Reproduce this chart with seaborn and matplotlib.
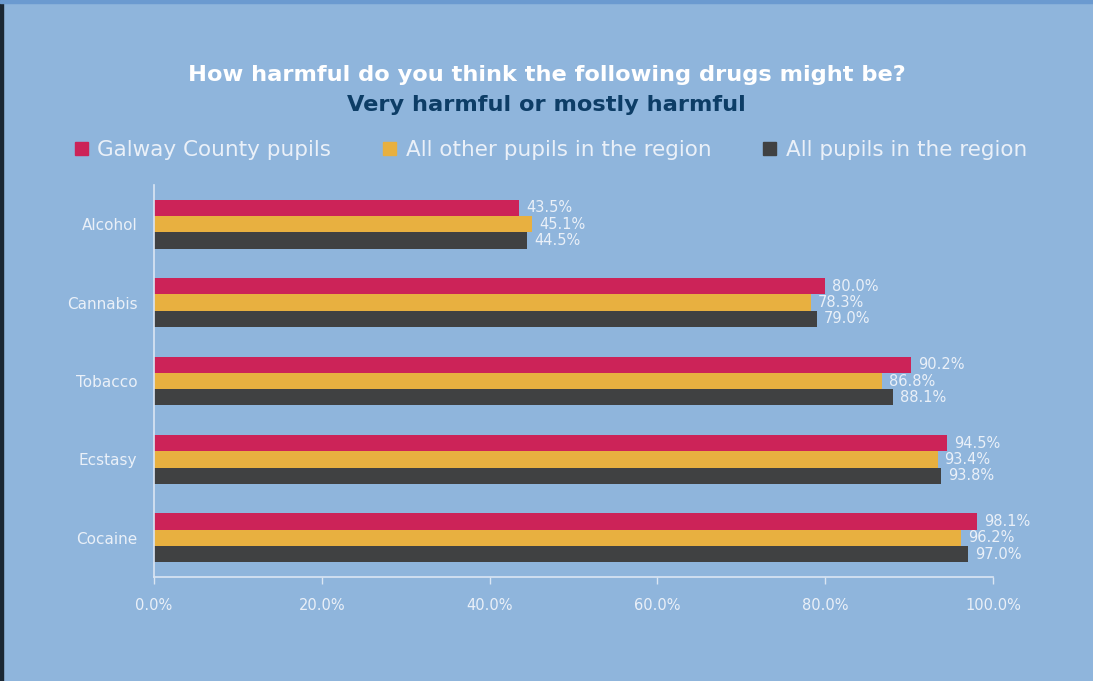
import matplotlib
matplotlib.use("Agg")
import matplotlib.pyplot as plt
import matplotlib.patches as mpatches
from matplotlib.ticker import FuncFormatter
import seaborn as sns
import pandas as pd

categories = ["Alcohol", "Cannabis", "Tobacco", "Ecstasy", "Cocaine"]
series_names = ["Galway County pupils", "All other pupils in the region", "All pupils in the region"]
galway = [43.5, 80.0, 90.2, 94.5, 98.1]
other = [45.1, 78.3, 86.8, 93.4, 96.2]
all_pupils = [44.5, 79.0, 88.1, 93.8, 97.0]
x_ticks = [0, 20, 40, 60, 80, 100]

colors = ["#cc2358", "#e8b040", "#404142"]
bg = "#8fb5dc"
light = "#eaf0f8"

rows = []
for name, vals in zip(series_names, [galway, other, all_pupils]):
    for c, v in zip(categories, vals):
        rows.append({"Drug": c, "Series": name, "Value": v})
df = pd.DataFrame(rows)

sns.set_style("white")
plt.rcParams["font.family"] = ["DejaVu Sans"]

fig = plt.figure(figsize=(10.93, 6.81), dpi=100, facecolor=bg)
ax = fig.add_axes([154 / 1093, 1 - 577 / 681, (993 - 154) / 1093, (577 - 185) / 681])
ax.set_facecolor(bg)

sns.barplot(data=df, x="Value", y="Drug", hue="Series", order=categories,
            hue_order=series_names, palette=colors, orient="h", width=0.62,
            dodge=True, saturation=1, ax=ax, legend=False, linewidth=0)

for cont in ax.containers:
    labels = [f"{b.get_width():.1f}%" for b in cont]
    ax.bar_label(cont, labels=labels, padding=5, color=light, fontsize=10.5)

ax.set_xlim(0, 100)
ax.set_ylim(4.5, -0.5)
ax.set_xticks(x_ticks)
ax.xaxis.set_major_formatter(FuncFormatter(lambda v, p: f"{v:.1f}%"))
ax.set_xlabel("")
ax.set_ylabel("")
ax.tick_params(axis="x", bottom=True, colors="#dbe6f3", labelcolor=light, labelsize=10.5,
               length=5, width=1, direction="out", pad=10)
ax.tick_params(axis="y", left=False, labelcolor=light, labelsize=11, length=0, pad=12)
for s in ["top", "right"]:
    ax.spines[s].set_visible(False)
for s in ["left", "bottom"]:
    ax.spines[s].set_color("#dbe6f3")
    ax.spines[s].set_linewidth(1.2)

fig.text(0.5, 1 - 75 / 681, "How harmful do you think the following drugs might be?",
         ha="center", va="center", color="white", fontsize=16.2, fontweight="bold")
fig.text(0.5, 1 - 105 / 681, "Very harmful or mostly harmful",
         ha="center", va="center", color="#0d3d66", fontsize=16.2, fontweight="bold")

handles = [mpatches.Patch(color=c, label=n) for c, n in zip(colors, series_names)]
leg = fig.legend(handles=handles, loc="center", bbox_to_anchor=(0.504, 1 - 150 / 681), ncol=3,
                 frameon=False, fontsize=15.5, handlelength=0.6, handleheight=0.6,
                 handletextpad=0.45, columnspacing=2.4)
for t in leg.get_texts():
    t.set_color(light)

# frame decorations
fig.patches.append(mpatches.Rectangle((0, 0), 3 / 1093, 1, transform=fig.transFigure,
                                      color="#1b2733", zorder=10))
fig.patches.append(mpatches.Rectangle((0, 1 - 3 / 681), 1, 3 / 681, transform=fig.transFigure,
                                      color="#6b9ad0", zorder=10))

fig.savefig("out.png", dpi=100, facecolor=bg)
